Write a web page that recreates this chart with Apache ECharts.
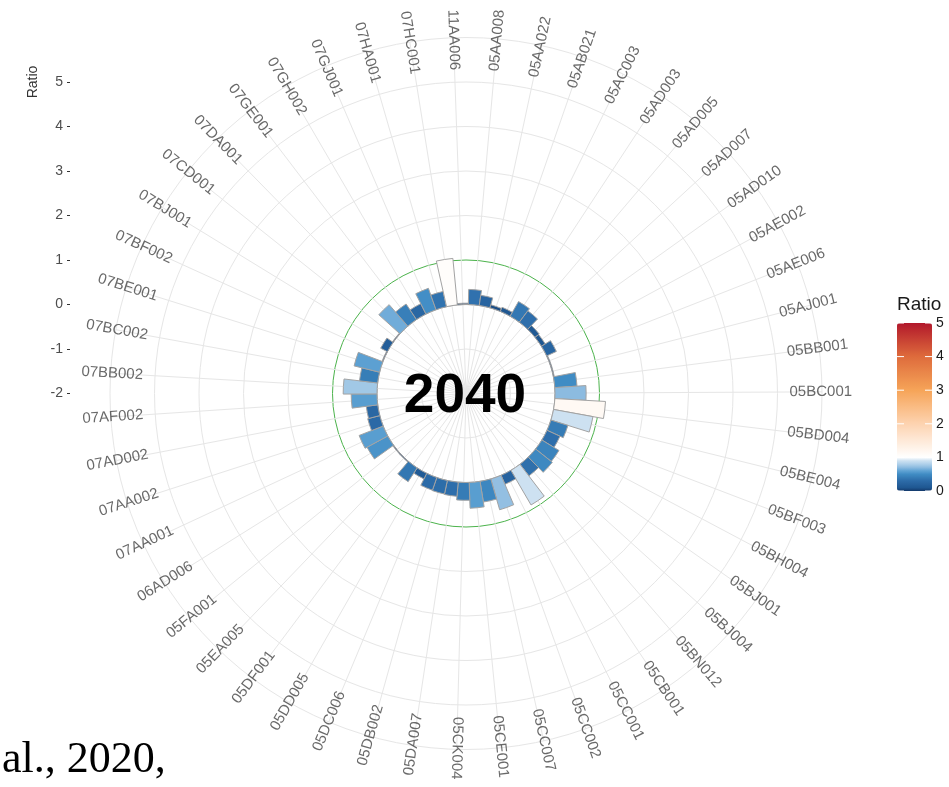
<!DOCTYPE html>
<html><head><meta charset="utf-8">
<script src="https://cdn.jsdelivr.net/npm/echarts@6/dist/echarts.min.js"></script>
<style>html,body{margin:0;padding:0;background:#fff}#c{width:949px;height:787px}</style>
</head><body><div id="c"></div>
<script>
// ---------------- data ----------------
const categories = ['05AA008','05AA022','05AB021','05AC003','05AD003','05AD005','05AD007','05AD010','05AE002','05AE006',
  '05AJ001','05BB001','05BC001','05BD004','05BE004','05BF003','05BH004','05BJ001','05BJ004','05BN012',
  '05CB001','05CC001','05CC002','05CC007','05CE001','05CK004','05DA007','05DB002','05DC006','05DD005',
  '05DF001','05EA005','05FA001','06AD006','07AA001','07AA002','07AD002','07AF002','07BB002','07BC002',
  '07BE001','07BF002','07BJ001','07CD001','07DA001','07GE001','07GH002','07GJ001','07HA001','07HC001','11AA006'];
const ratios = [0.34,0.23,0.07,0.10,0.38,0.32,0.12,0.10,0.24,0.02,
  0.02,0.50,0.70,1.14,0.90,0.40,0.32,0.45,0.48,0.33,
  0.90,0.22,0.72,0.47,0.58,0.40,0.32,0.31,0.30,0.14,
  0.37,0.02,0.02,0.53,0.58,0.28,0.26,0.58,0.76,0.41,
  0.59,0.02,0.17,0.02,0.64,0.42,0.26,0.51,0.35,1.05,0.03];
const yTicks = [-2,-1,0,1,2,3,4,5];
const legendTicks = [0,1,2,3,4,5];
const referenceLine = 1;
const centerLabel = '2040';
const footnote = 'al., 2020,';
const colorStopValues = [0,0.1,0.3,0.5,0.6,0.7,0.8,0.9,1.0,2.0,3.0,4.0,5.0];
const colorStopColors = ['#12386a','#1f5791','#2c6ba8','#408cc4','#5fa2d3','#8cbbe0','#afd0ea','#cde1f1','#ffffff','#fdd3b0','#f6a458','#de6b3c','#b2182b'];

// ---------------- helpers ----------------
function hex2rgb(h){h=h.replace('#','');return [0,2,4].map(i=>parseInt(h.substr(i,2),16));}
function colorAt(v){
  for(let i=0;i<colorStopValues.length-1;i++){
    const a=colorStopValues[i], b=colorStopValues[i+1];
    if(v>=a && v<=b){
      const t=(v-a)/(b-a), ca=hex2rgb(colorStopColors[i]), cb=hex2rgb(colorStopColors[i+1]);
      return 'rgb('+ca.map((x,j)=>Math.round(x+(cb[j]-x)*t)).join(',')+')';
    }
  }
  return colorStopColors[colorStopColors.length-1];
}
const vmColors=[]; for(let i=0;i<=100;i++){vmColors.push(colorAt(i*0.05));}

const CX=466, CY=393.5, UNIT=44.5;
const RMIN=-2, RMAX=6;
const R=(RMAX-RMIN)*UNIT;
const START=88.5;
const n=categories.length;
const LABEL_R=5.27;

const barData = ratios.map((v,i)=>[v,i]);
const labelData = categories.map((c,i)=>{
  const frac=(i+0.5)/n;
  const theta=frac*360+(90-START);
  const right=frac<=0.5+1e-9;
  return {name:c, value:[LABEL_R,i], label:{rotate: right?90-theta:270-theta, align: right?'left':'right'}};
});

const gridColors = [];
for(let v=RMIN; v<=RMAX; v++){ gridColors.push(v===referenceLine?'#4cb34c':(v===0?'#a8a8a8':'#e6e6e6')); }

// legend geometry
const LG={x:897,y:323,w:35,h:168,max:5};
const graphics=[];
legendTicks.forEach(v=>{
  const y=LG.y+(LG.max-v)*LG.h/LG.max;
  graphics.push({type:'line',z:100,shape:{x1:LG.x,y1:y,x2:LG.x+7,y2:y},style:{stroke:'#fff',lineWidth:1}});
  graphics.push({type:'line',z:100,shape:{x1:LG.x+LG.w-7,y1:y,x2:LG.x+LG.w,y2:y},style:{stroke:'#fff',lineWidth:1}});
  graphics.push({type:'text',z:100,x:LG.x+LG.w+4,y:y,style:{text:String(v),fill:'#1a1a1a',font:'14px "Liberation Sans", Arial, sans-serif',textAlign:'left',textVerticalAlign:'middle'}});
});
graphics.push({type:'text',z:100,x:LG.x,y:305,style:{text:'Ratio',fill:'#1a1a1a',font:'19px "Liberation Sans", Arial, sans-serif',textAlign:'left',textVerticalAlign:'middle'}});
graphics.push({type:'text',z:100,x:33,y:82,rotation:Math.PI/2,style:{text:'Ratio',fill:'#333',font:'14px "Liberation Sans", Arial, sans-serif',textAlign:'center',textVerticalAlign:'middle'}});
graphics.push({type:'text',z:100,x:465,y:397,style:{text:centerLabel,fill:'#000',font:'bold 55px "Liberation Sans", Arial, sans-serif',textAlign:'center',textVerticalAlign:'middle'}});
graphics.push({type:'text',z:100,x:2,y:760,style:{text:footnote,fill:'#000',font:'44px "Liberation Serif", "Times New Roman", serif',textAlign:'left',textVerticalAlign:'middle'}});

const chart=echarts.init(document.getElementById('c'),null,{renderer:'canvas'});
chart.setOption({
  animation:false,
  backgroundColor:'#fff',
  polar:{center:[CX,CY],radius:[0,R]},
  angleAxis:{type:'category',data:categories,startAngle:START,clockwise:true,boundaryGap:true,
    axisLine:{show:false},axisTick:{show:false,alignWithLabel:true,interval:0},axisLabel:{show:false,interval:0},
    splitLine:{show:true,interval:0,lineStyle:{color:'#e6e6e6',width:1}}},
  radiusAxis:{type:'value',min:RMIN,max:RMAX,interval:1,axisLine:{show:false},axisTick:{show:false},axisLabel:{show:false},
    splitLine:{show:true,lineStyle:{color:gridColors,width:1}}},
  grid:{left:70,top:CY-(yTicks[yTicks.length-1]-yTicks[0])*UNIT,height:(yTicks[yTicks.length-1]-yTicks[0])*UNIT,width:10},
  xAxis:{type:'value',show:false},
  yAxis:{type:'value',min:yTicks[0],max:yTicks[yTicks.length-1],interval:1,
    axisLine:{show:false},splitLine:{show:false},
    axisTick:{show:true,length:3,lineStyle:{color:'#333'}},
    axisLabel:{color:'#4d4d4d',fontSize:14,fontFamily:'Liberation Sans',margin:7}},
  visualMap:{type:'continuous',seriesIndex:0,dimension:0,min:0,max:LG.max,inRange:{color:vmColors},
    show:true,calculable:false,orient:'vertical',left:LG.x,top:LG.y,itemWidth:LG.w,itemHeight:LG.h,padding:0,hoverLink:false},
  series:[
    {type:'bar',coordinateSystem:'polar',data:barData,barCategoryGap:'0%',
      itemStyle:{borderColor:'#a3a3a3',borderWidth:1},z:2},
    {type:'scatter',coordinateSystem:'polar',data:labelData,symbolSize:0,silent:true,clip:false,
      itemStyle:{color:'transparent'},
      label:{show:true,position:'inside',formatter:p=>p.name,color:'#444',fontSize:15,fontFamily:'Liberation Sans',verticalAlign:'middle'},z:3}
  ],
  graphic:graphics
});
</script></body></html>
